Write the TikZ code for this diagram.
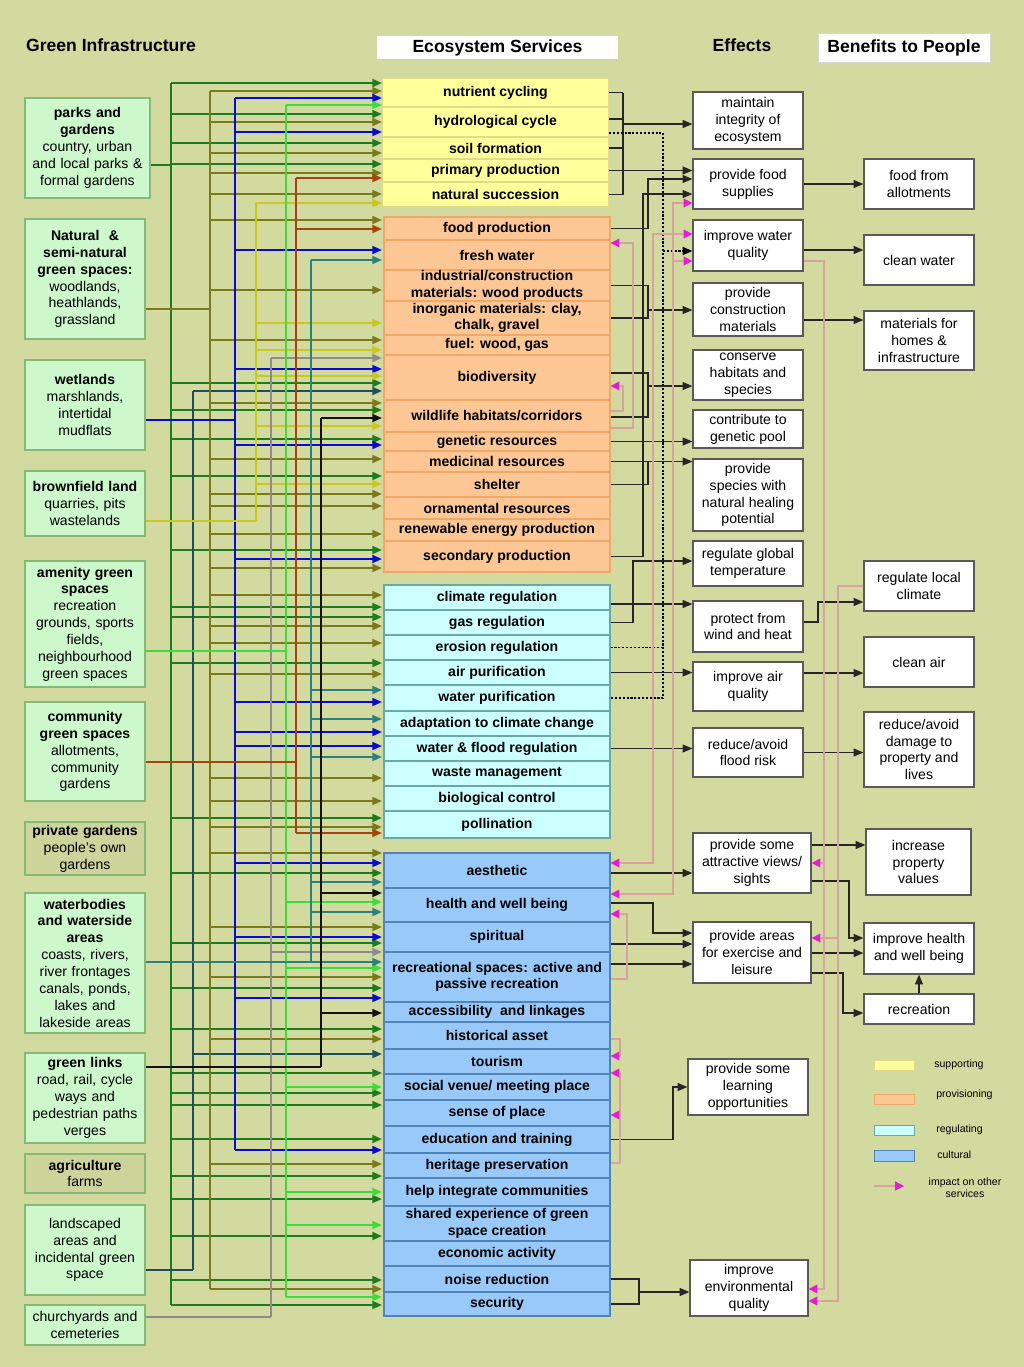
\documentclass[tikz,border=0pt]{standalone}
\usepackage{fontspec}
\setmainfont{Liberation Sans}
\usetikzlibrary{arrows.meta}
\definecolor{GIBack}{HTML}{D3DA9F}
\definecolor{GIFill}{HTML}{CCF8CC}
\definecolor{GIEdge}{HTML}{86B878}
\definecolor{GIDim}{HTML}{CDD49B}
\definecolor{SupFill}{HTML}{FFFF9C}
\definecolor{SupEdge}{HTML}{E2DC88}
\definecolor{ProFill}{HTML}{FCC794}
\definecolor{ProEdge}{HTML}{EEA868}
\definecolor{RegFill}{HTML}{CCFFFF}
\definecolor{RegEdge}{HTML}{6AA8A8}
\definecolor{CulFill}{HTML}{99C9F9}
\definecolor{CulEdge}{HTML}{5084B8}
\definecolor{BoxEdge}{HTML}{5A5A5A}
\definecolor{ImpLine}{HTML}{D8A39E}
\definecolor{ImpHead}{HTML}{E020D0}
\definecolor{PkLine}{HTML}{1E7B1E}
\definecolor{NtLine}{HTML}{7A7A1A}
\definecolor{WtLine}{HTML}{0A0AD2}
\definecolor{LsLine}{HTML}{1F4F5F}
\definecolor{BfLine}{HTML}{C8C81E}
\definecolor{ChLine}{HTML}{8C8C8C}
\definecolor{AmLine}{HTML}{3CDC3C}
\definecolor{CmLine}{HTML}{A3450E}
\definecolor{WbLine}{HTML}{2B8080}
\definecolor{GlLine}{HTML}{111111}
\newcommand{\pxu}{0.02cm}

\begin{document}
\begin{tikzpicture}[x=0.02cm,y=-0.02cm,
  head/.style={font=\bfseries\fontsize{10}{12}\selectfont,inner sep=1pt},
  gibox/.style={draw=GIEdge,fill=GIFill,line width=0.8pt,align=center,inner sep=1pt,
    minimum width=120*\pxu,text width=116*\pxu,font=\fontsize{8}{9.6}\selectfont},
  gidim/.style={gibox,fill=GIDim},
  svrow/.style={minimum width=226*\pxu,inner sep=0pt,align=center,line width=0.7pt,
    font=\bfseries\fontsize{8}{9.4}\selectfont},
  suprow/.style={svrow,draw=SupEdge,fill=SupFill},
  prorow/.style={svrow,draw=ProEdge,fill=ProFill},
  regrow/.style={svrow,draw=RegEdge,fill=RegFill},
  culrow/.style={svrow,draw=CulEdge,fill=CulFill},
  effbox/.style={draw=BoxEdge,fill=white,line width=0.7pt,align=center,inner sep=1pt,
    font=\fontsize{8}{9.6}\selectfont},
  legend/.style={font=\fontsize{6}{7}\selectfont,inner sep=0pt,align=center},
  lnk/.tip={Triangle[length=5.5pt,width=4.5pt]},
  imptip/.tip={Triangle[length=5pt,width=5pt,color=ImpHead]},
  bus/.style={line width=1.1pt},
  feed/.style={line width=1.1pt,-{lnk}},
  plain/.style={draw=black!85,line width=0.6pt},
  link/.style={plain,-{lnk}},
  dots/.style={draw=black,line width=1pt,dash pattern=on 1.2pt off 1pt},
  impact/.style={draw=ImpLine,line width=0.8pt,-{imptip}},
  impboth/.style={draw=ImpLine,line width=0.8pt,{imptip}-{imptip}}
]
  \fill[GIBack] (0,0) rectangle (1024,1367);
  \useasboundingbox (0,0) rectangle (1024,1367);

  % headings
  \node[head,anchor=west] (gihead) at (24,45) {Green Infrastructure};
  \node[head,fill=white,minimum width=241*\pxu,minimum height=23*\pxu] (eshead) at (497.5,47.5) {Ecosystem Services};
  \node[head] (efhead) at (742,45) {Effects};
  \node[head,fill=white,draw=white!85!black,minimum width=172*\pxu,minimum height=29*\pxu] (bphead) at (904,47.5) {Benefits to People};

  % green infrastructure
  \node[gibox,minimum width=125*\pxu,minimum height=100*\pxu] (parks) at (87.5,148)
    {\textbf{parks and}\\\textbf{gardens}\\country, urban\\and local parks \&\\formal gardens};
  \node[gibox,minimum height=120*\pxu] (natural) at (85,279)
    {\textbf{Natural \ \&}\\\textbf{semi-natural}\\\textbf{green spaces:}\\woodlands,\\heathlands,\\grassland};
  \node[gibox,minimum height=90*\pxu] (wetland) at (85,405)
    {\textbf{wetlands}\\marshlands,\\intertidal\\mudflats};
  \node[gibox,minimum height=65*\pxu] (brown) at (85,503.5)
    {\textbf{brownfield land}\\quarries, pits\\wastelands};
  \node[gibox,minimum height=126*\pxu] (amenity) at (85,624)
    {\textbf{amenity green}\\\textbf{spaces}\\recreation\\grounds, sports\\fields,\\neighbourhood\\green spaces};
  \node[gibox,minimum height=99*\pxu] (commun) at (85,751.5)
    {\textbf{community}\\\textbf{green spaces}\\allotments,\\community\\gardens};
  \node[gidim,minimum height=53*\pxu] (private) at (85,848.5)
    {\textbf{private gardens}\\people's own\\gardens};
  \node[gibox,minimum height=140*\pxu] (water) at (85,963)
    {\textbf{waterbodies}\\\textbf{and waterside}\\\textbf{areas}\\coasts, rivers,\\river frontages\\canals, ponds,\\lakes and\\lakeside areas};
  \node[gibox,minimum height=90*\pxu] (glinks) at (85,1098)
    {\textbf{green links}\\road, rail, cycle\\ways and\\pedestrian paths\\verges};
  \node[gidim,minimum height=39*\pxu] (agri) at (85,1173.5)
    {\textbf{agriculture}\\farms};
  \node[gibox,minimum height=90*\pxu] (landsc) at (85,1250)
    {landscaped\\areas and\\incidental green\\space};
  \node[gibox,minimum height=40*\pxu] (church) at (85,1325)
    {churchyards and\\cemeteries};

  % ecosystem services
  \foreach \nm/\ya/\yb/\txt in {nc/78/107/{nutrient cycling}, hc/107/137/{hydrological cycle},
      sf/137/159/{soil formation}, pp/159/182/{primary production}, ns/182/207/{natural succession}}
    \node[suprow,minimum height=(\yb-\ya)*\pxu] (\nm) at (495.5,{(\ya+\yb)/2}) {\txt};
  \foreach \nm/\ya/\yb/\txt in {fp/217/240/{food production}, fw/240/270/{fresh water},
      iw/270/301/{industrial/construction\\materials: wood products},
      ig/301/335/{inorganic materials: clay,\\chalk, gravel}, fu/335/355/{fuel: wood, gas},
      bd/355/400/{biodiversity}, wh/400/432/{wildlife habitats/corridors},
      gr/432/451/{genetic resources}, mr/451/472/{medicinal resources}, sh/472/497/{shelter},
      or/497/519/{ornamental resources}, re/519/541/{renewable energy production},
      sp/541/572/{secondary production}}
    \node[prorow,minimum height=(\yb-\ya)*\pxu] (\nm) at (497,{(\ya+\yb)/2}) {\txt};
  \foreach \nm/\ya/\yb/\txt in {cr/585/610/{climate regulation}, gs/610/635/{gas regulation},
      er/635/660/{erosion regulation}, ap/660/685/{air purification},
      wp/685/711/{water purification}, ad/711/736/{adaptation to climate change},
      wf/736/761/{water \& flood regulation}, wm/761/786/{waste management},
      bc/786/811/{biological control}, po/811/838/{pollination}}
    \node[regrow,minimum height=(\yb-\ya)*\pxu] (\nm) at (497,{(\ya+\yb)/2}) {\txt};
  \foreach \nm/\ya/\yb/\txt in {ae/853/888/{aesthetic}, hw/888/922/{health and well being},
      spi/922/952/{spiritual}, rs/952/1002/{recreational spaces: active and\\passive recreation},
      al/1002/1022/{accessibility \ and linkages}, ha/1022/1049/{historical asset},
      tou/1049/1074/{tourism}, sv/1074/1100/{social venue/ meeting place},
      sop/1100/1126/{sense of place}, et/1126/1153/{education and training},
      hp/1153/1178/{heritage preservation}, hi/1178/1206/{help integrate communities},
      se/1206/1241/{shared experience of green\\space creation},
      ea/1241/1266/{economic activity}, nr/1266/1292/{noise reduction}, sec/1292/1316/{security}}
    \node[culrow,minimum height=(\yb-\ya)*\pxu] (\nm) at (497,{(\ya+\yb)/2}) {\txt};

  % green infrastructure -> services
  \coordinate (svL) at (382,0);
  \foreach \src/\bx/\cy/\ytop/\ybot/\col/\ys in {
    parks/171/165/83/1305/PkLine/{83,114,143,164,383,410,439,476,550,607,617,663,818,873,943,988,1029,1073,1093,1105,1139,1176,1199,1236,1280,1305},
    landsc/193/1270/391/1270/LsLine/{391,1054},
    natural/210/309/91/1289/NtLine/{91,122,153,173,194,220,290,340,403,459,494,506,534,568,595,626,643,674,778,801,827,853,927,977,1039,1164,1289},
    wetland/235/420/98/1150/WtLine/{98,132,250,369,445,559,702,732,746,863,937,998,1150},
    brown/256/521/203/521/BfLine/{203,323,350,376,426,484},
    church/271/1317/358/1317/ChLine/{358,952},
    amenity/286/651/105/1297/AmLine/{105,902,968,1087,1192,1225,1297},
    commun/296/762/178/833/CmLine/{178,229,833},
    water/311/962/260/962/WbLine/{260,690,719,757,882,912,962},
    glinks/321/1067/418/1067/GlLine/{418,893,1013}}{
    \draw[bus,color=\col] (\src.east |- 0,\cy) -- (\bx,\cy);
    \draw[bus,color=\col] (\bx,\ytop) -- (\bx,\ybot);
    \foreach \y in \ys
      \draw[feed,color=\col] (\bx,\y) -- (svL |- 0,\y);
  }

  % effects
  \node[effbox,minimum width=110*\pxu,minimum height=57*\pxu] (mint) at (748,120.5) {maintain\\integrity of\\ecosystem};
  \node[effbox,minimum width=110*\pxu,minimum height=50*\pxu] (food) at (748,184) {provide food\\supplies};
  \node[effbox,minimum width=110*\pxu,minimum height=51*\pxu] (wq) at (748,245.5) {improve water\\quality};
  \node[effbox,minimum width=110*\pxu,minimum height=53*\pxu] (constr) at (748,309.5) {provide\\construction\\materials};
  \node[effbox,minimum width=110*\pxu,minimum height=50*\pxu] (habit) at (748,375) {conserve\\habitats and\\species};
  \node[effbox,minimum width=110*\pxu,minimum height=38*\pxu] (genp) at (748,429) {contribute to\\genetic pool};
  \node[effbox,minimum width=110*\pxu,minimum height=72*\pxu] (heal) at (748,495) {provide\\species with\\natural healing\\potential};
  \node[effbox,minimum width=110*\pxu,minimum height=45*\pxu] (glob) at (748,563.5) {regulate global\\temperature};
  \node[effbox,minimum width=110*\pxu,minimum height=51*\pxu] (wind) at (748,626.5) {protect from\\wind and heat};
  \node[effbox,minimum width=110*\pxu,minimum height=49*\pxu] (airq) at (748,686.5) {improve air\\quality};
  \node[effbox,minimum width=110*\pxu,minimum height=49*\pxu] (flood) at (748,752.5) {reduce/avoid\\flood risk};
  \node[effbox,minimum width=118*\pxu,minimum height=60*\pxu] (views) at (752,863) {provide some\\attractive views/\\sights};
  \node[effbox,minimum width=118*\pxu,minimum height=61*\pxu] (exer) at (752,952.5) {provide areas\\for exercise and\\leisure};
  \node[effbox,minimum width=120*\pxu,minimum height=56*\pxu] (learn) at (748,1087) {provide some\\learning\\opportunities};
  \node[effbox,minimum width=118*\pxu,minimum height=56*\pxu] (envq) at (749,1288) {improve\\environmental\\quality};

  % benefits
  \node[effbox,minimum width=110*\pxu,minimum height=50*\pxu] (bfood) at (919,184) {food from\\allotments};
  \node[effbox,minimum width=110*\pxu,minimum height=50*\pxu] (bwater) at (919,260) {clean water};
  \node[effbox,minimum width=110*\pxu,minimum height=59*\pxu] (bmat) at (919,340.5) {materials for\\homes \&\\infrastructure};
  \node[effbox,minimum width=110*\pxu,minimum height=50*\pxu] (bclim) at (919,586) {regulate local\\climate};
  \node[effbox,minimum width=110*\pxu,minimum height=50*\pxu] (bair) at (919,662) {clean air};
  \node[effbox,minimum width=110*\pxu,minimum height=75*\pxu] (bdmg) at (919,749.5) {reduce/avoid\\damage to\\property and\\lives};
  \node[effbox,minimum width=105*\pxu,minimum height=66*\pxu] (bprop) at (918.5,862) {increase\\property\\values};
  \node[effbox,minimum width=110*\pxu,minimum height=51*\pxu] (bhealth) at (919,948.5) {improve health\\and well being};
  \node[effbox,minimum width=110*\pxu,minimum height=30*\pxu] (brec) at (919,1009) {recreation};

  % services -> effects
  \coordinate (supbus) at (623,124);
  \draw[plain] (nc.east) -- (nc.east -| supbus);
  \draw[plain] (hc.east |- 0,119) -- (supbus |- 0,119);
  \draw[plain] (sf.east) -- (sf.east -| supbus);
  \draw[plain] (ns.east) -- (ns.east -| supbus);
  \draw[plain] (supbus |- nc.east) -- (supbus |- ns.east);
  \draw[link] (supbus) -- (mint.west |- supbus);
  \draw[dots] (hc.east |- 0,133) -- (663,133) -- (663,698) -- (wp.east);
  \draw[dots] (er.east) -- (er.east -| 663,0);
  \draw[dots,-{lnk}] (663,251) -- (wq.west |- 0,251);
  \draw[link] (pp.east) -- (food.west |- pp.east);
  \draw[link] (fp.east) -| (648,179) -- (food.west |- 0,179);
  \draw[link] (sp.east) -| (643,194) -- (food.west |- 0,194);
  \draw[plain] (iw.east) -| (648,310);
  \draw[plain] (ig.east) -| (648,310);
  \draw[link] (648,310) -- (constr.west |- 0,310);
  \draw[plain] (bd.east |- 0,373) -| (648,386);
  \draw[plain] (wh.east |- 0,417) -| (648,386);
  \draw[link] (648,386) -- (habit.west |- 0,386);
  \draw[link] (gr.east) -- (genp.west |- gr.east);
  \draw[link] (mr.east) -- (heal.west |- mr.east);
  \draw[plain] (sh.east) -| (648,461.5);
  \draw[link] (gs.east) -| (633,561) -- (glob.west |- 0,561);
  \draw[link] (cr.east |- 0,604) -- (wind.west |- 0,604);
  \draw[link] (ap.east) -- (airq.west |- ap.east);
  \draw[link] (wf.east) -- (flood.west |- wf.east);
  \draw[link] (ae.east |- 0,873) -- (views.west |- 0,873);
  \draw[link] (hw.east |- 0,903) -| (653,933) -- (exer.west |- 0,933);
  \draw[link] (spi.east |- 0,944) -- (exer.west |- 0,944);
  \draw[link] (rs.east |- 0,964) -- (exer.west |- 0,964);
  \draw[link] (et.east) -| (673,1087) -- (learn.west |- 0,1087);
  \draw[plain] (nr.east) -| (639,1292);
  \draw[plain] (sec.east) -| (639,1292);
  \draw[link] (639,1292) -- (envq.west |- 0,1292);

  % effects -> benefits
  \draw[link] (food.east) -- (bfood.west);
  \draw[link] (wq.east |- 0,250) -- (bwater.west |- 0,250);
  \draw[link] (constr.east |- 0,320) -- (bmat.west |- 0,320);
  \draw[link] (wind.east |- 0,622) -| (818,602) -- (bclim.west |- 0,602);
  \draw[link] (airq.east |- 0,673) -- (bair.west |- 0,673);
  \draw[link] (flood.east) -- (bdmg.west |- flood.east);
  \draw[link] (views.east |- 0,845) -- (bprop.west |- 0,845);
  \draw[link] (views.east |- 0,881) -| (849,938) -- (bhealth.west |- 0,938);
  \draw[link] (exer.east |- 0,953) -- (bhealth.west |- 0,953);
  \draw[link] (exer.east |- 0,973) -| (843,1013) -- (brec.west |- 0,1013);
  \draw[link] (brec.north) -- (bhealth.south);

  % impact on other services
  \draw[impact] (wh.east |- 0,428) -| (633,243) -- (fw.east |- 0,243);
  \draw[impact] (wh.east |- 0,411) -| (623,386) -- (bd.east |- 0,386);
  \draw[impboth] (wq.west |- 0,234) -| (653,863) -- (ae.east |- 0,863);
  \draw[impboth] (food.west |- 0,203) -| (673,894) -- (hw.east |- 0,894);
  \draw[impact] (673,261) -- (wq.west |- 0,261);
  \draw[impact] (wq.east |- 0,261) -| (824,1289) -- (envq.east |- 0,1289);
  \draw[impact] (bclim.west |- 0,586) -| (838,1301) -- (envq.east |- 0,1301);
  \draw[impact] (824,863) -- (views.east |- 0,863);
  \draw[impact] (838,938) -- (exer.east |- 0,938);
  \draw[impact] (rs.east |- 0,979) -| (627,914) -- (hw.east |- 0,914);
  \draw[impact] (ha.east |- 0,1039) -| (620,1056) -- (tou.east |- 0,1056);
  \draw[impact] (hp.east |- 0,1163) -| (620,1073) -- (sv.east |- 0,1073);
  \draw[impact] (620,1115) -- (sop.east |- 0,1115);

  % legend
  \draw[SupEdge,fill=SupFill] (874,1060) rectangle (914,1070);
  \node[legend,anchor=west] (lgsup) at (934,1065) {supporting};
  \draw[ProEdge,fill=ProFill] (874,1094) rectangle (914,1104);
  \node[legend,anchor=west] (lgpro) at (936,1095) {provisioning};
  \draw[RegEdge,fill=RegFill] (874,1125) rectangle (914,1135);
  \node[legend,anchor=west] (lgreg) at (936,1130) {regulating};
  \draw[CulEdge,fill=CulFill] (874,1150) rectangle (914,1161);
  \node[legend,anchor=west] (lgcul) at (937,1155) {cultural};
  \draw[impact] (874,1186) -- (904,1186);
  \node[legend] (lgimp) at (965,1188) {impact on other\\services};
\end{tikzpicture}
\end{document}
